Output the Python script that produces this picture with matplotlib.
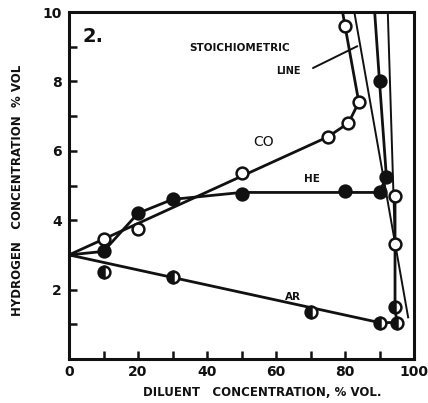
import matplotlib
matplotlib.use("Agg")
import matplotlib.pyplot as plt

# ---- data ----
co_x = [10, 20, 50, 75, 81, 84, 80, 94.5, 94.5]
co_y = [3.45, 3.75, 5.35, 6.4, 6.8, 7.4, 9.6, 4.7, 3.3]
co_line_x = [0, 75, 81, 84, 80, 79.3]
co_line_y = [3.0, 6.4, 6.8, 7.4, 9.6, 10.0]

he_x = [10, 20, 30, 50, 80, 90, 92, 90]
he_y = [3.1, 4.2, 4.6, 4.75, 4.85, 4.8, 5.25, 8.0]
he_line_x = [0, 10, 20, 30, 50, 90, 92, 90, 88.6]
he_line_y = [3.0, 3.1, 4.2, 4.6, 4.8, 4.8, 5.25, 8.0, 10.0]

ar_x = [10, 30, 70, 90, 95, 94.5]
ar_y = [2.5, 2.35, 1.35, 1.05, 1.05, 1.5]
ar_line_x = [0, 90, 95, 94.5, 94.5]
ar_line_y = [3.0, 1.05, 1.05, 1.5, 4.7]

stoich1_x = [82.7, 98.3]
stoich1_y = [10.0, 1.2]
stoich2_x = [92.4, 94.5]
stoich2_y = [10.0, 3.3]

x_ticks = [0, 20, 40, 60, 80, 100]
y_ticks = [2, 4, 6, 8, 10]

ink = "#111111"

fig = plt.figure(figsize=(4.28, 4.03), dpi=100)
ax = fig.add_axes([69/428, 1-359/403, (414-69)/428, (359-12)/403])
ax.set_xlim(0, 100)
ax.set_ylim(0, 10)

lw = 2.0
ax.plot(co_line_x, co_line_y, color=ink, lw=lw, zorder=2)
ax.plot(he_line_x, he_line_y, color=ink, lw=lw, zorder=2)
ax.plot(ar_line_x, ar_line_y, color=ink, lw=lw, zorder=2)
ax.plot(stoich1_x, stoich1_y, color=ink, lw=1.4, zorder=2)
ax.plot(stoich2_x, stoich2_y, color=ink, lw=1.4, zorder=2)

ms = 8.5
ax.plot(co_x, co_y, ls="none", marker="o", ms=ms, mfc="white", mec=ink, mew=1.8, zorder=3)
ax.plot(he_x, he_y, ls="none", marker="o", ms=ms, mfc=ink, mec=ink, mew=1.8, zorder=3)
ax.plot(ar_x, ar_y, ls="none", marker="o", ms=ms, fillstyle="left", mfc=ink,
        mfcalt="white", mec=ink, mew=1.8, zorder=3)

# pointer for stoichiometric line
ax.annotate("", xy=(84.3, 9.05), xytext=(70.0, 8.35),
            arrowprops=dict(arrowstyle="-", color=ink, lw=1.4))

ax.text(4, 9.3, "2.", fontsize=14, fontweight="bold", color=ink, va="center")
ax.text(35, 8.95, "STOICHIOMETRIC", fontsize=7.5, fontweight="bold", color=ink, va="center")
ax.text(60, 8.3, "LINE", fontsize=7, fontweight="bold", color=ink, va="center")
ax.text(56.5, 6.25, "CO", fontsize=10, color=ink, va="center", ha="center")
ax.text(70.5, 5.2, "HE", fontsize=7.5, fontweight="bold", color=ink, va="center", ha="center")
ax.text(65, 1.8, "AR", fontsize=7.5, fontweight="bold", color=ink, va="center", ha="center")

for s in ax.spines.values():
    s.set_linewidth(2.2)
    s.set_color(ink)

ax.set_xticks(x_ticks)
ax.set_xticks(range(10, 100, 10), minor=True)
ax.set_yticks(y_ticks)
ax.set_yticks(range(1, 10), minor=True)
ax.set_xticklabels([str(v) for v in x_ticks], fontsize=10, fontweight="bold", color=ink)
ax.set_yticklabels([str(v) for v in y_ticks], fontsize=10, fontweight="bold", color=ink)
ax.tick_params(which="both", direction="in", length=6, width=1.8, color=ink)
ax.tick_params(axis="x", pad=4)
ax.tick_params(axis="y", pad=5)

fig.text(262/428, 1-392/403, "DILUENT   CONCENTRATION, % VOL.", fontsize=8.5,
         fontweight="bold", color=ink, ha="center", va="center")
fig.text(18/428, 1-190/403, "HYDROGEN   CONCENTRATION  % VOL", fontsize=8.5,
         fontweight="bold", color=ink, ha="center", va="center", rotation=90)

fig.savefig("out.png", dpi=100, facecolor="white")
